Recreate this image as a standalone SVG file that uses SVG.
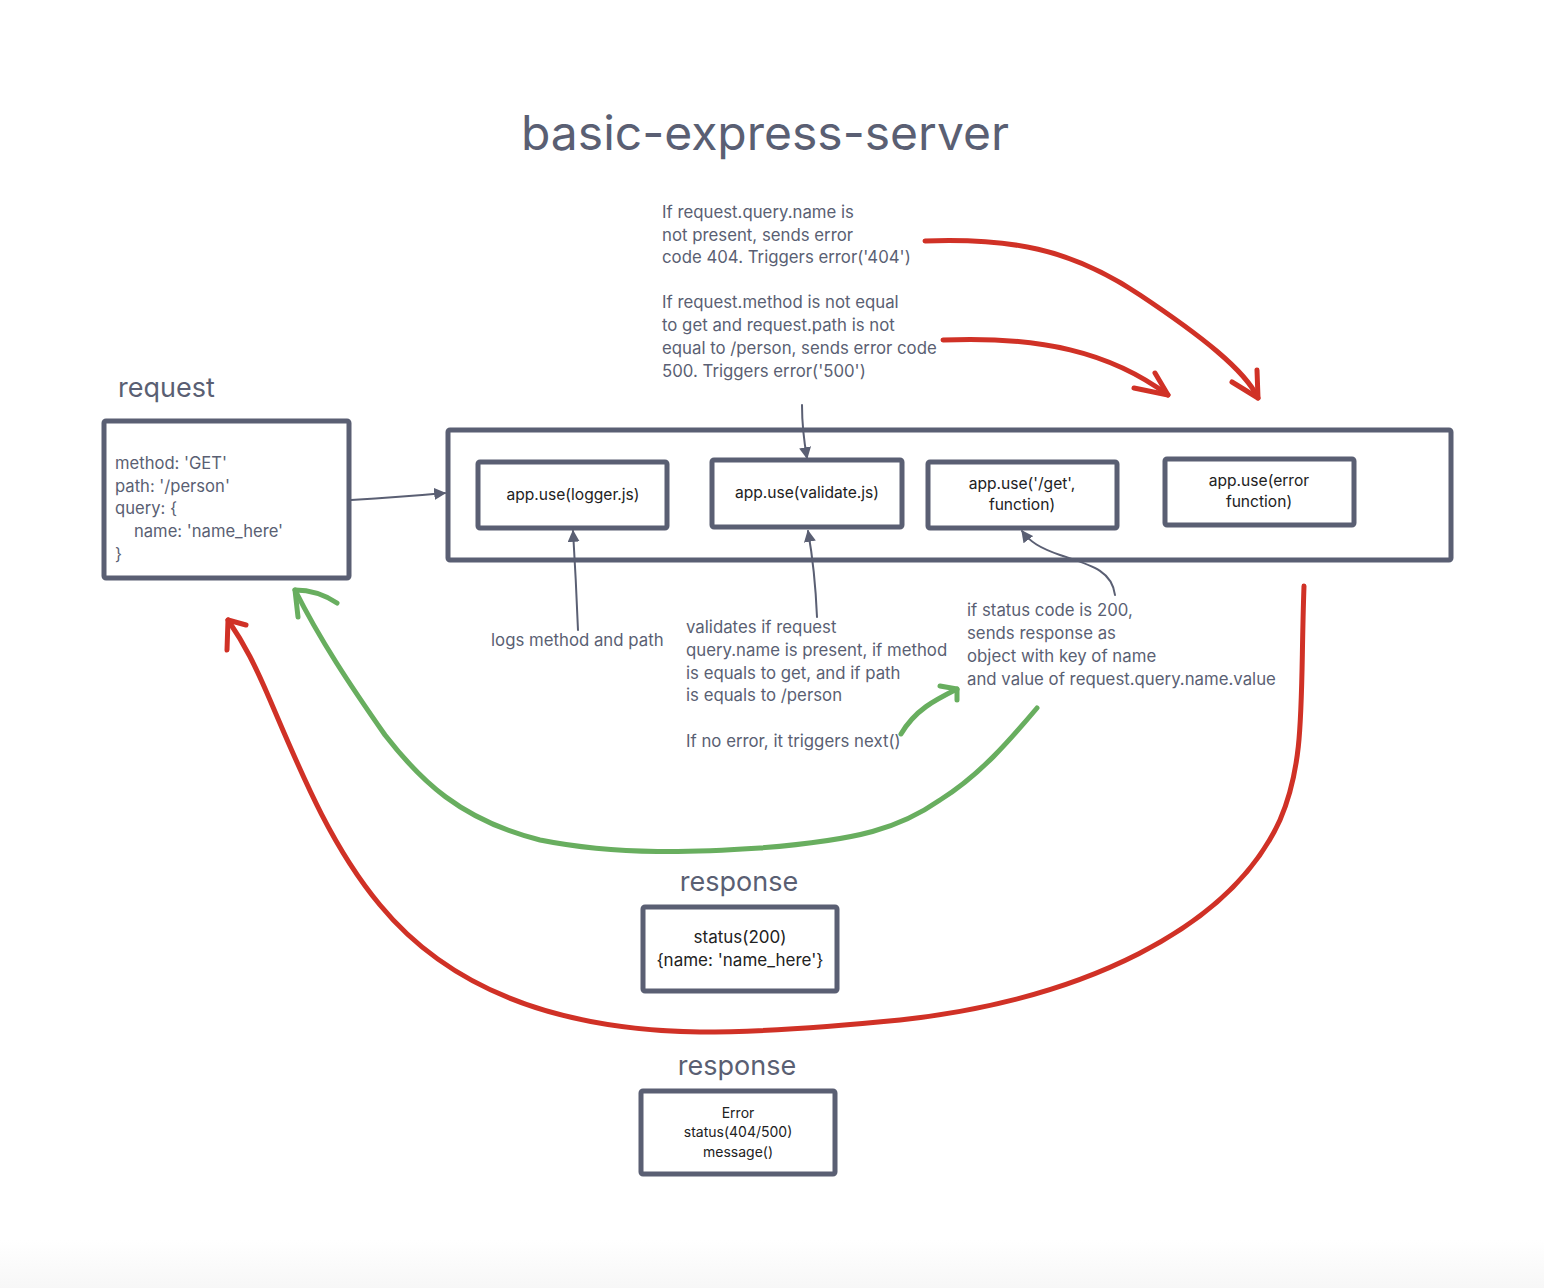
<svg xmlns="http://www.w3.org/2000/svg" width="1544" height="1288" viewBox="0 0 1544 1288">
<defs>
<style>
.t{font-family:Inter,"Liberation Sans",sans-serif;fill:#5a5f73}
.lbl{font-size:16.8px}
.box{fill:#ffffff;stroke:#5a5f73;stroke-width:5;stroke-linejoin:round}
.in{font-family:Inter,"Liberation Sans",sans-serif;fill:#222;font-size:15.6px;text-anchor:middle}
.con{fill:none;stroke:#5a5f73;stroke-width:2;stroke-linecap:round}
.red{fill:none;stroke:#d03126;stroke-width:5;stroke-linecap:round;stroke-linejoin:round}
.grn{fill:none;stroke:#68ae5f;stroke-width:5;stroke-linecap:round;stroke-linejoin:round}
</style>
<marker id="ah2" viewBox="0 0 10 10" refX="9" refY="5" markerWidth="12" markerHeight="12" orient="auto" markerUnits="userSpaceOnUse">
<path d="M0,0 L10,5 L0,10 z" fill="#5a5f73"/>
</marker>
<linearGradient id="bg" x1="0" y1="0" x2="0" y2="1">
<stop offset="0" stop-color="#ffffff"/>
<stop offset="1" stop-color="#f7f7f7"/>
</linearGradient>
</defs>
<rect width="1544" height="1288" fill="#ffffff"/>
<rect x="0" y="1240" width="1544" height="48" fill="url(#bg)"/>

<text class="t" x="765" y="150" font-size="48" text-anchor="middle">basic-express-server</text>

<g id="request">
<text class="t" x="118" y="397" font-size="27">request</text>
<rect class="box" x="104" y="421" width="245" height="157" rx="2"/>
<text class="t" x="115" y="469" font-size="16.6">method: 'GET'</text>
<text class="t" x="115" y="492" font-size="16.6">path: '/person'</text>
<text class="t" x="115" y="514" font-size="16.6">query: {</text>
<text class="t" x="134" y="537" font-size="16.6">name: 'name_here'</text>
<text class="t" x="115" y="560" font-size="16.6">}</text>
</g>

<g id="app">
<rect class="box" x="448" y="430" width="1003" height="130" rx="2"/>
</g>
<g id="logger">
<rect class="box" x="478" y="462" width="189" height="66" rx="2"/>
<text class="in" x="573" y="500">app.use(logger.js)</text>
</g>
<g id="validate">
<rect class="box" x="712" y="460" width="190" height="67" rx="2"/>
<text class="in" x="807" y="498">app.use(validate.js)</text>
</g>
<g id="get">
<rect class="box" x="928" y="462" width="189" height="66" rx="2"/>
<text class="in" x="1022" y="489">app.use('/get',</text>
<text class="in" x="1022" y="510">function)</text>
</g>
<g id="error">
<rect class="box" x="1165" y="459" width="189" height="66" rx="2"/>
<text class="in" x="1259" y="486">app.use(error</text>
<text class="in" x="1259" y="507">function)</text>
</g>

<g id="notes">
<text class="t lbl" x="662" y="218">If request.query.name is</text>
<text class="t lbl" x="662" y="241">not present, sends error</text>
<text class="t lbl" x="662" y="263">code 404. Triggers error('404')</text>
<text class="t lbl" x="662" y="308">If request.method is not equal</text>
<text class="t lbl" x="662" y="331">to get and request.path is not</text>
<text class="t lbl" x="662" y="354">equal to /person, sends error code</text>
<text class="t lbl" x="662" y="377">500. Triggers error('500')</text>
<text class="t lbl" x="491" y="646">logs method and path</text>
<text class="t lbl" x="686" y="633">validates if request</text>
<text class="t lbl" x="686" y="656">query.name is present, if method</text>
<text class="t lbl" x="686" y="679">is equals to get, and if path</text>
<text class="t lbl" x="686" y="701">is equals to /person</text>
<text class="t lbl" x="686" y="747">If no error, it triggers next()</text>
<text class="t lbl" x="967" y="616">if status code is 200,</text>
<text class="t lbl" x="967" y="639">sends response as</text>
<text class="t lbl" x="967" y="662">object with key of name</text>
<text class="t lbl" x="967" y="685">and value of request.query.name.value</text>
</g>

<g id="response-ok">
<text class="t" x="739" y="891" font-size="27" text-anchor="middle">response</text>
<rect class="box" x="643" y="907" width="194" height="84" rx="2"/>
<text class="in" x="740" y="943" style="font-size:17px">status(200)</text>
<text class="in" x="740" y="966" style="font-size:17px">{name: 'name_here'}</text>
</g>
<g id="response-error">
<text class="t" x="737" y="1075" font-size="27" text-anchor="middle">response</text>
<rect class="box" x="641" y="1091" width="194" height="83" rx="2"/>
<text class="in" x="738" y="1118" style="font-size:14px">Error</text>
<text class="in" x="738" y="1137" style="font-size:14px">status(404/500)</text>
<text class="in" x="738" y="1157" style="font-size:14px">message()</text>
</g>

<g id="connectors">
<path class="con" d="M351,500 Q400,497 445,493" marker-end="url(#ah2)"/>
<path class="con" d="M802,405 Q802,430 807,458" marker-end="url(#ah2)"/>
<path class="con" d="M578,630 Q576,580 573,531" marker-end="url(#ah2)"/>
<path class="con" d="M817,617 Q815,570 808,531" marker-end="url(#ah2)"/>
<path class="con" d="M1115,595 C1112,570 1090,565 1060,555 C1040,548 1030,542 1022,531" marker-end="url(#ah2)"/>

<path class="red" d="M925,241 C1010,238 1070,248 1140,295 C1200,335 1245,370 1258,398"/>
<path class="red" d="M1232,382 L1258,398 L1257,370"/>
<path class="red" d="M943,340 C1040,336 1110,352 1168,395"/>
<path class="red" d="M1134,388 L1168,395 L1155,373"/>
<path class="red" d="M1304,586 C1300,700 1306,760 1280,820 C1230,930 1080,1000 900,1020 C820,1028 760,1032 700,1032 C560,1030 450,990 380,905 C330,845 300,770 270,700 C255,665 245,645 228,620"/>
<path class="red" d="M246,625 L228,620 L227,650"/>

<path class="grn" d="M1037,708 C1010,740 980,775 940,800 C900,828 860,840 760,848 C700,852 620,856 540,840 C460,820 420,780 385,735 C350,685 320,640 295,590"/>
<path class="grn" d="M337,603 C325,595 310,590 295,590 L298,617"/>
<path class="grn" d="M901,734 C915,710 935,700 957,689"/>
<path class="grn" d="M940,686 L957,689 L957,700"/>
</g>
</svg>
